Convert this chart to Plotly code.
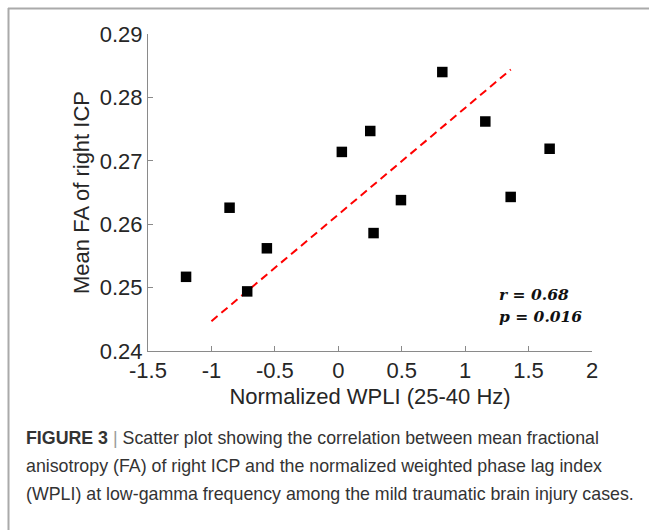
import plotly.graph_objects as go

# Data
wpli = [-1.20, -0.857, -0.718, -0.563, 0.028, 0.252, 0.278, 0.494, 0.820, 1.159, 1.359, 1.666]
fa = [0.2517, 0.2626, 0.2494, 0.2562, 0.2714, 0.2747, 0.2586, 0.2638, 0.2840, 0.2762, 0.2643, 0.2719]
fit_x = [-1.0, 1.36]
fit_y = [0.2447, 0.2844]
x_ticks = [-1.5, -1, -0.5, 0, 0.5, 1, 1.5, 2]
x_tick_labels = ["-1.5", "-1", "-0.5", "0", "0.5", "1", "1.5", "2"]
y_ticks = [0.24, 0.25, 0.26, 0.27, 0.28, 0.29]
y_tick_labels = ["0.24", "0.25", "0.26", "0.27", "0.28", "0.29"]
stats_lines = ["r = 0.68", "p = 0.016"]
caption_lines = [
    "<b>FIGURE 3</b> <span style='color:#9a9a9a'>|</span> Scatter plot showing the correlation between mean fractional",
    "anisotropy (FA) of right ICP and the normalized weighted phase lag index",
    "(WPLI) at low-gamma frequency among the mild traumatic brain injury cases.",
]

W, H = 649, 530
L, R, T, B = 148, 57, 34, 179
pw, ph = W - L - R, H - T - B

def px_x(p):
    return (p - L) / pw

def px_y(p):
    return (H - B - p) / ph

fig = go.Figure()
fig.add_trace(go.Scatter(
    x=fit_x, y=fit_y, mode="lines",
    line=dict(color="#ff0000", width=2, dash="8px,5px"),
    showlegend=False, hoverinfo="skip"))
fig.add_trace(go.Scatter(
    x=wpli, y=fa, mode="markers",
    marker=dict(symbol="square", size=10.5, color="black"),
    showlegend=False))

axis_font = dict(family="Liberation Sans, Arial, sans-serif", size=22, color="#262626")
fig.update_xaxes(
    range=[-1.5, 2], tickvals=x_ticks, ticktext=x_tick_labels, automargin=False,
    showline=True, linecolor="#8a8a8a", linewidth=1, mirror=False,
    ticks="inside", ticklen=5, tickcolor="#8a8a8a", showgrid=False, zeroline=False,
    tickfont=axis_font,
    title=dict(text="Normalized WPLI (25-40 Hz)", font=axis_font, standoff=6))
fig.update_yaxes(
    range=[0.24, 0.29], tickvals=y_ticks, ticktext=y_tick_labels, automargin=False,
    showline=True, linecolor="#8a8a8a", linewidth=1, mirror=False,
    ticks="inside", ticklen=5, tickcolor="#8a8a8a", showgrid=False, zeroline=False,
    tickfont=axis_font,
    title=dict(text="Mean FA of right ICP", font=axis_font, standoff=4))

stat_font = dict(family="DejaVu Serif, serif", size=15.5, color="#111111")
for i, s in enumerate(stats_lines):
    fig.add_annotation(
        x=px_x(497), y=px_y(294 + 22 * i), xref="paper", yref="paper",
        text="<b><i>" + s + "</i></b>", showarrow=False,
        xanchor="left", yanchor="middle", font=stat_font)

cap_font = dict(family="Liberation Sans, Arial, sans-serif", size=17.8, color="#333333")
for i, s in enumerate(caption_lines):
    fig.add_annotation(
        x=px_x(24), y=px_y(438 + 28 * i), xref="paper", yref="paper",
        text=s, showarrow=False, xanchor="left", yanchor="middle", font=cap_font)

# frame lines (top and left)
fig.add_shape(type="line", xref="paper", yref="paper",
              x0=px_x(8), x1=px_x(W + 2), y0=px_y(8.5), y1=px_y(8.5),
              line=dict(color="#aaaaaa", width=2))
fig.add_shape(type="line", xref="paper", yref="paper",
              x0=px_x(8.5), x1=px_x(8.5), y0=px_y(8), y1=px_y(H + 2),
              line=dict(color="#aaaaaa", width=2))

fig.update_layout(
    width=W, height=H, margin=dict(l=L, r=R, t=T, b=B),
    paper_bgcolor="white", plot_bgcolor="white")

fig.write_html("out.html", config={"displayModeBar": False},
               post_script="document.body.style.margin='0';document.body.style.overflow='hidden';")
